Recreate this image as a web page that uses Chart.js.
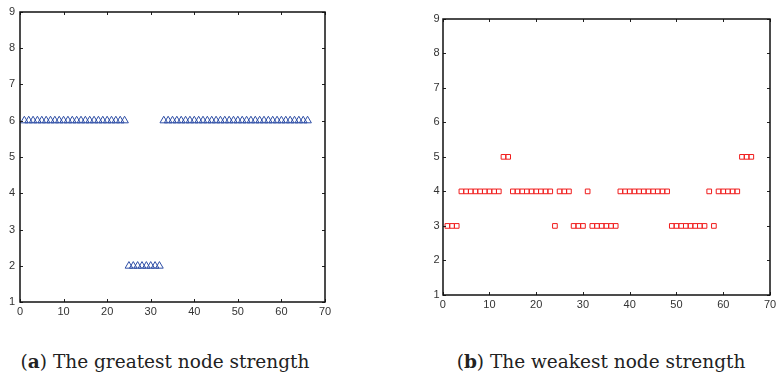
<!DOCTYPE html>
<html>
<head>
<meta charset="utf-8">
<script src="https://cdn.jsdelivr.net/npm/chart.js@4.4.1/dist/chart.umd.min.js"></script>
<style>
  html, body { margin: 0; padding: 0; background: #fff; }
  body { width: 780px; height: 384px; position: relative; overflow: hidden; }
  .panel { position: absolute; top: 0; height: 320px; }
  .caption {
    position: absolute; top: 352px; width: 320px;
    font-family: 'DejaVu Serif', serif; font-size: 18.5px; line-height: 20px;
    color: #222; text-align: center; white-space: nowrap;
  }
</style>
</head>
<body>
<div class="panel" style="left:0;width:340px"><canvas id="chartGreatest" width="340" height="320"></canvas></div>
<div class="panel" style="left:422px;width:358px"><canvas id="chartWeakest" width="358" height="320"></canvas></div>
<div class="caption" style="left:5px">(<b>a</b>) The greatest node strength</div>
<div class="caption" style="left:441px">(<b>b</b>) The weakest node strength</div>

<script>
// node index (x) and the strength measured at each node (y)
const nodeIds = [
  1, 2, 3, 4, 5, 6, 7, 8, 9, 10, 11, 12, 13, 14, 15, 16, 17, 18, 19, 20, 21, 22,
  23, 24, 25, 26, 27, 28, 29, 30, 31, 32, 33, 34, 35, 36, 37, 38, 39, 40, 41, 42, 43, 44,
  45, 46, 47, 48, 49, 50, 51, 52, 53, 54, 55, 56, 57, 58, 59, 60, 61, 62, 63, 64, 65, 66
];
const greatestStrength = [
  6, 6, 6, 6, 6, 6, 6, 6, 6, 6, 6, 6, 6, 6, 6, 6, 6, 6, 6, 6, 6, 6,
  6, 6, 2, 2, 2, 2, 2, 2, 2, 2, 6, 6, 6, 6, 6, 6, 6, 6, 6, 6, 6, 6,
  6, 6, 6, 6, 6, 6, 6, 6, 6, 6, 6, 6, 6, 6, 6, 6, 6, 6, 6, 6, 6, 6
];
const weakestStrength = [
  3, 3, 3, 4, 4, 4, 4, 4, 4, 4, 4, 4, 5, 5, 4, 4, 4, 4, 4, 4, 4, 4,
  4, 3, 4, 4, 4, 3, 3, 3, 4, 3, 3, 3, 3, 3, 3, 4, 4, 4, 4, 4, 4, 4,
  4, 4, 4, 4, 3, 3, 3, 3, 3, 3, 3, 3, 4, 3, 4, 4, 4, 4, 4, 5, 5, 5
];
const xTicks = [0, 10, 20, 30, 40, 50, 60, 70];
const yTicks = [1, 2, 3, 4, 5, 6, 7, 8, 9];

// boxed axes with short inward tick marks on all four sides
const boxFrame = {
  id: 'boxFrame',
  afterDatasetsDraw(chart) {
    const g = chart.ctx;
    const a = chart.chartArea;
    const xs = chart.scales.x, ys = chart.scales.y;
    const tl = 3;
    const l = Math.round(a.left), r = Math.round(a.right);
    const t = Math.round(a.top), b = Math.round(a.bottom);
    g.save();
    g.strokeStyle = '#222';
    g.lineWidth = 1;
    g.beginPath();
    xTicks.forEach(v => {
      const px = Math.round(xs.getPixelForValue(v)) + 0.5;
      g.moveTo(px, b); g.lineTo(px, b - tl);
      g.moveTo(px, t); g.lineTo(px, t + tl);
    });
    yTicks.forEach(v => {
      const py = Math.round(ys.getPixelForValue(v)) + 0.5;
      g.moveTo(l, py); g.lineTo(l + tl, py);
      g.moveTo(r, py); g.lineTo(r - tl, py);
    });
    g.stroke();
    g.strokeStyle = '#111';
    g.lineWidth = 1.5;
    g.strokeRect(l, t, r - l, b - t);
    g.restore();
  }
};

const tickFont = { family: "'Liberation Sans', Arial, sans-serif", size: 11 };

function renderPanel(id, values, marker, layout) {
  const ctx = document.getElementById(id);
  new Chart(ctx, {
    type: 'scatter',
    data: {
      datasets: [{
        data: nodeIds.map((n, i) => ({ x: n, y: values[i] })),
        pointStyle: marker.style,
        pointRadius: marker.radius,
        borderColor: marker.colour,
        backgroundColor: 'rgba(0,0,0,0)',
        borderWidth: 1,
        clip: false,
      }],
    },
    options: {
      responsive: false,
      animation: false,
      events: [],
      layout: { padding: layout.padding },
      plugins: { legend: { display: false }, tooltip: { enabled: false } },
      scales: {
        x: {
          type: 'linear', min: 0, max: 70,
          grid: { display: false, drawTicks: false }, border: { display: false },
          afterBuildTicks: s => { s.ticks = xTicks.map(v => ({ value: v })); },
          afterFit: s => { s.height = layout.xHeight; },
          ticks: { font: tickFont, color: '#333', padding: 3, maxRotation: 0, autoSkip: false },
        },
        y: {
          type: 'linear', min: 1, max: 9,
          grid: { display: false, drawTicks: false }, border: { display: false },
          afterBuildTicks: s => { s.ticks = yTicks.map(v => ({ value: v })); },
          afterFit: s => { s.width = layout.yWidth; },
          ticks: { font: tickFont, color: '#333', padding: layout.yPad, autoSkip: false },
        },
      },
    },
    plugins: [boxFrame],
  });
}

renderPanel('chartGreatest', greatestStrength,
  { style: 'triangle', radius: 4.4, colour: '#2f4fa6' },
  { padding: { top: 10.5, right: 15, bottom: 0, left: 0 }, xHeight: 17.7, yWidth: 20, yPad: 5 });

renderPanel('chartWeakest', weakestStrength,
  { style: 'rect', radius: 3.3, colour: '#f01c1c' },
  { padding: { top: 18.7, right: 10, bottom: 0, left: 0 }, xHeight: 25, yWidth: 20.7, yPad: 3 });
</script>
</body>
</html>
